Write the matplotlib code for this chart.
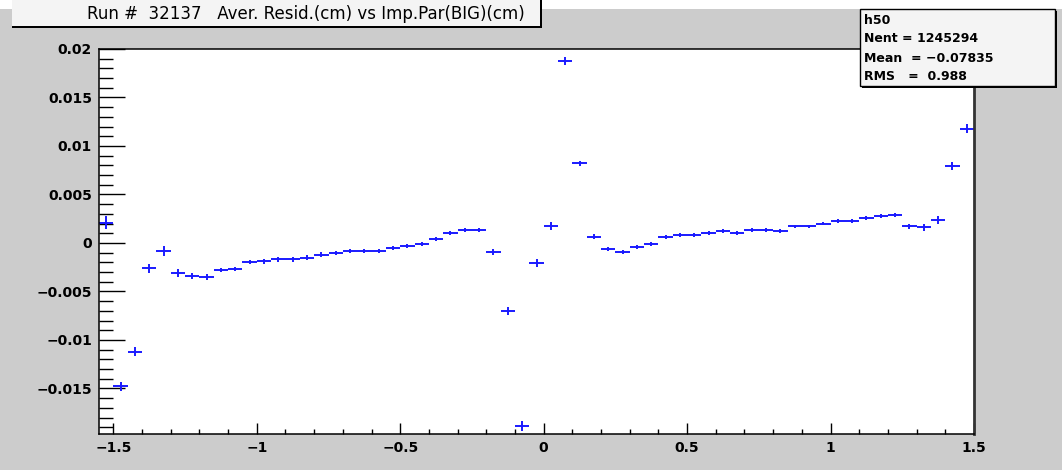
import matplotlib
matplotlib.use("Agg")
import matplotlib.pyplot as plt
from matplotlib.patches import Rectangle
from matplotlib.ticker import MultipleLocator, FuncFormatter
import numpy as np

# h50: average residual per impact-parameter bin (61 bins, width 0.05 cm)
bin_lo = -1.55
bin_w = 0.05
resid = [0.0021, -0.0148, -0.0112, -0.0026, -0.0008, -0.0031, -0.0034, -0.0035,
         -0.0028, -0.0027, -0.0020, -0.0019, -0.0017, -0.0017, -0.0015, -0.0012,
         -0.0010, -0.0008, -0.0008, -0.0008, -0.00055, -0.0003, -0.00013, 0.0004,
         0.00106, 0.0013, 0.0013, -0.00096, -0.0070, -0.0189, -0.0021, 0.00175,
         0.0188, 0.0082, 0.00065, -0.0006, -0.0009, -0.0004, -0.00014, 0.00065,
         0.0008, 0.0008, 0.00106, 0.0012, 0.00106, 0.0013, 0.0013, 0.0012,
         0.0017, 0.0017, 0.0020, 0.0023, 0.0023, 0.0026, 0.0028, 0.0029,
         0.0017, 0.0016, 0.0024, 0.0079, 0.0118]
resid_err = [0.0007, 0.0005, 0.0005, 0.00048, 0.0005, 0.00038, 0.00034, 0.00028,
             0.00024, 0.00024, 0.00022, 0.00022, 0.00022, 0.00022, 0.00022, 0.00022,
             0.00022, 0.00022, 0.00022, 0.00022, 0.00022, 0.00022, 0.00022, 0.00022,
             0.00022, 0.00022, 0.00022, 0.0003, 0.0004, 0.0005, 0.0004, 0.0004,
             0.0004, 0.0003, 0.00025, 0.00022, 0.00022, 0.00022, 0.00022, 0.00022,
             0.0002, 0.0002, 0.0002, 0.0002, 0.0002, 0.0002, 0.0002, 0.0002,
             0.0002, 0.0002, 0.0002, 0.0002, 0.0002, 0.0002, 0.0002, 0.0002,
             0.0003, 0.0004, 0.0004, 0.0004, 0.0005]

title = "Run #  32137   Aver. Resid.(cm) vs Imp.Par(BIG)(cm)"
stats = ["h50", "Nent = 1245294", "Mean  = \u22120.07835", "RMS   =  0.988"]

W, H = 1062, 470
fig = plt.figure(figsize=(W / 100, H / 100), dpi=100, facecolor="#cccccc")


def fx(x):
    return x / W


def fy(y):
    return 1 - y / H


def box(x0, y0, x1, y1, **kw):
    fig.patches.append(Rectangle((fx(x0), fy(y1)), fx(x1) - fx(x0), fy(y0) - fy(y1),
                                 transform=fig.transFigure, **kw))


# canvas strip and title pave
box(0, 0, W, 9, facecolor="white", edgecolor="none")
box(12, 0, 540, 27, facecolor="#f4f4f4", edgecolor="none")
box(12, 26, 542, 28, facecolor="black", edgecolor="none")
box(540, 0, 542, 28, facecolor="black", edgecolor="none")
fig.text(fx(87), fy(14), title, ha="left", va="center", fontsize=12,
         family="DejaVu Sans", color="black")

ax = fig.add_axes([fx(99), fy(434), fx(974) - fx(99), fy(49) - fy(434)])
ax.set_facecolor("white")

x = bin_lo + bin_w * (np.arange(len(resid)) + 0.5)
ax.errorbar(x, resid, xerr=bin_w / 2, yerr=resid_err, fmt="none",
            ecolor="#1a1aff", elinewidth=1.4, capsize=0)

ax.set_xlim(-1.55, 1.5)
ax.set_ylim(-0.0197, 0.02)

ax.xaxis.set_major_locator(MultipleLocator(0.5))
ax.xaxis.set_minor_locator(MultipleLocator(0.1))
ax.yaxis.set_major_locator(MultipleLocator(0.005))
ax.yaxis.set_minor_locator(MultipleLocator(0.001))

fmt = FuncFormatter(lambda v, p: ("%g" % round(v, 6)).replace("-", "\u2212"))
ax.xaxis.set_major_formatter(fmt)
ax.yaxis.set_major_formatter(fmt)

ax.tick_params(axis="x", which="major", direction="in", length=8, width=1, pad=5)
ax.tick_params(axis="x", which="minor", direction="in", length=3.6, width=1)
ax.tick_params(axis="y", which="major", direction="in", length=19, width=1, pad=5)
ax.tick_params(axis="y", which="minor", direction="in", length=10, width=1)
for lab in ax.get_xticklabels() + ax.get_yticklabels():
    lab.set_family("DejaVu Sans")
    lab.set_fontweight("bold")
    lab.set_fontsize(10)

for side in ["left", "bottom", "top"]:
    ax.spines[side].set_linewidth(1.1)
    ax.spines[side].set_color("black")
ax.spines["right"].set_linewidth(2)
ax.spines["right"].set_color("#333333")

# statistics pave
box(862, 86, 1057, 88, facecolor="black", edgecolor="none", zorder=5)
box(1055, 11, 1057, 88, facecolor="black", edgecolor="none", zorder=5)
box(860, 9, 1055, 86, facecolor="#f4f4f4", edgecolor="black", linewidth=1, zorder=6)
for i, line in enumerate(stats):
    fig.text(fx(864), fy(20 + 19 * i), line, ha="left", va="center", fontsize=9,
             family="DejaVu Sans", fontweight="bold", zorder=7)

fig.savefig("out.png", dpi=100, facecolor=fig.get_facecolor())
